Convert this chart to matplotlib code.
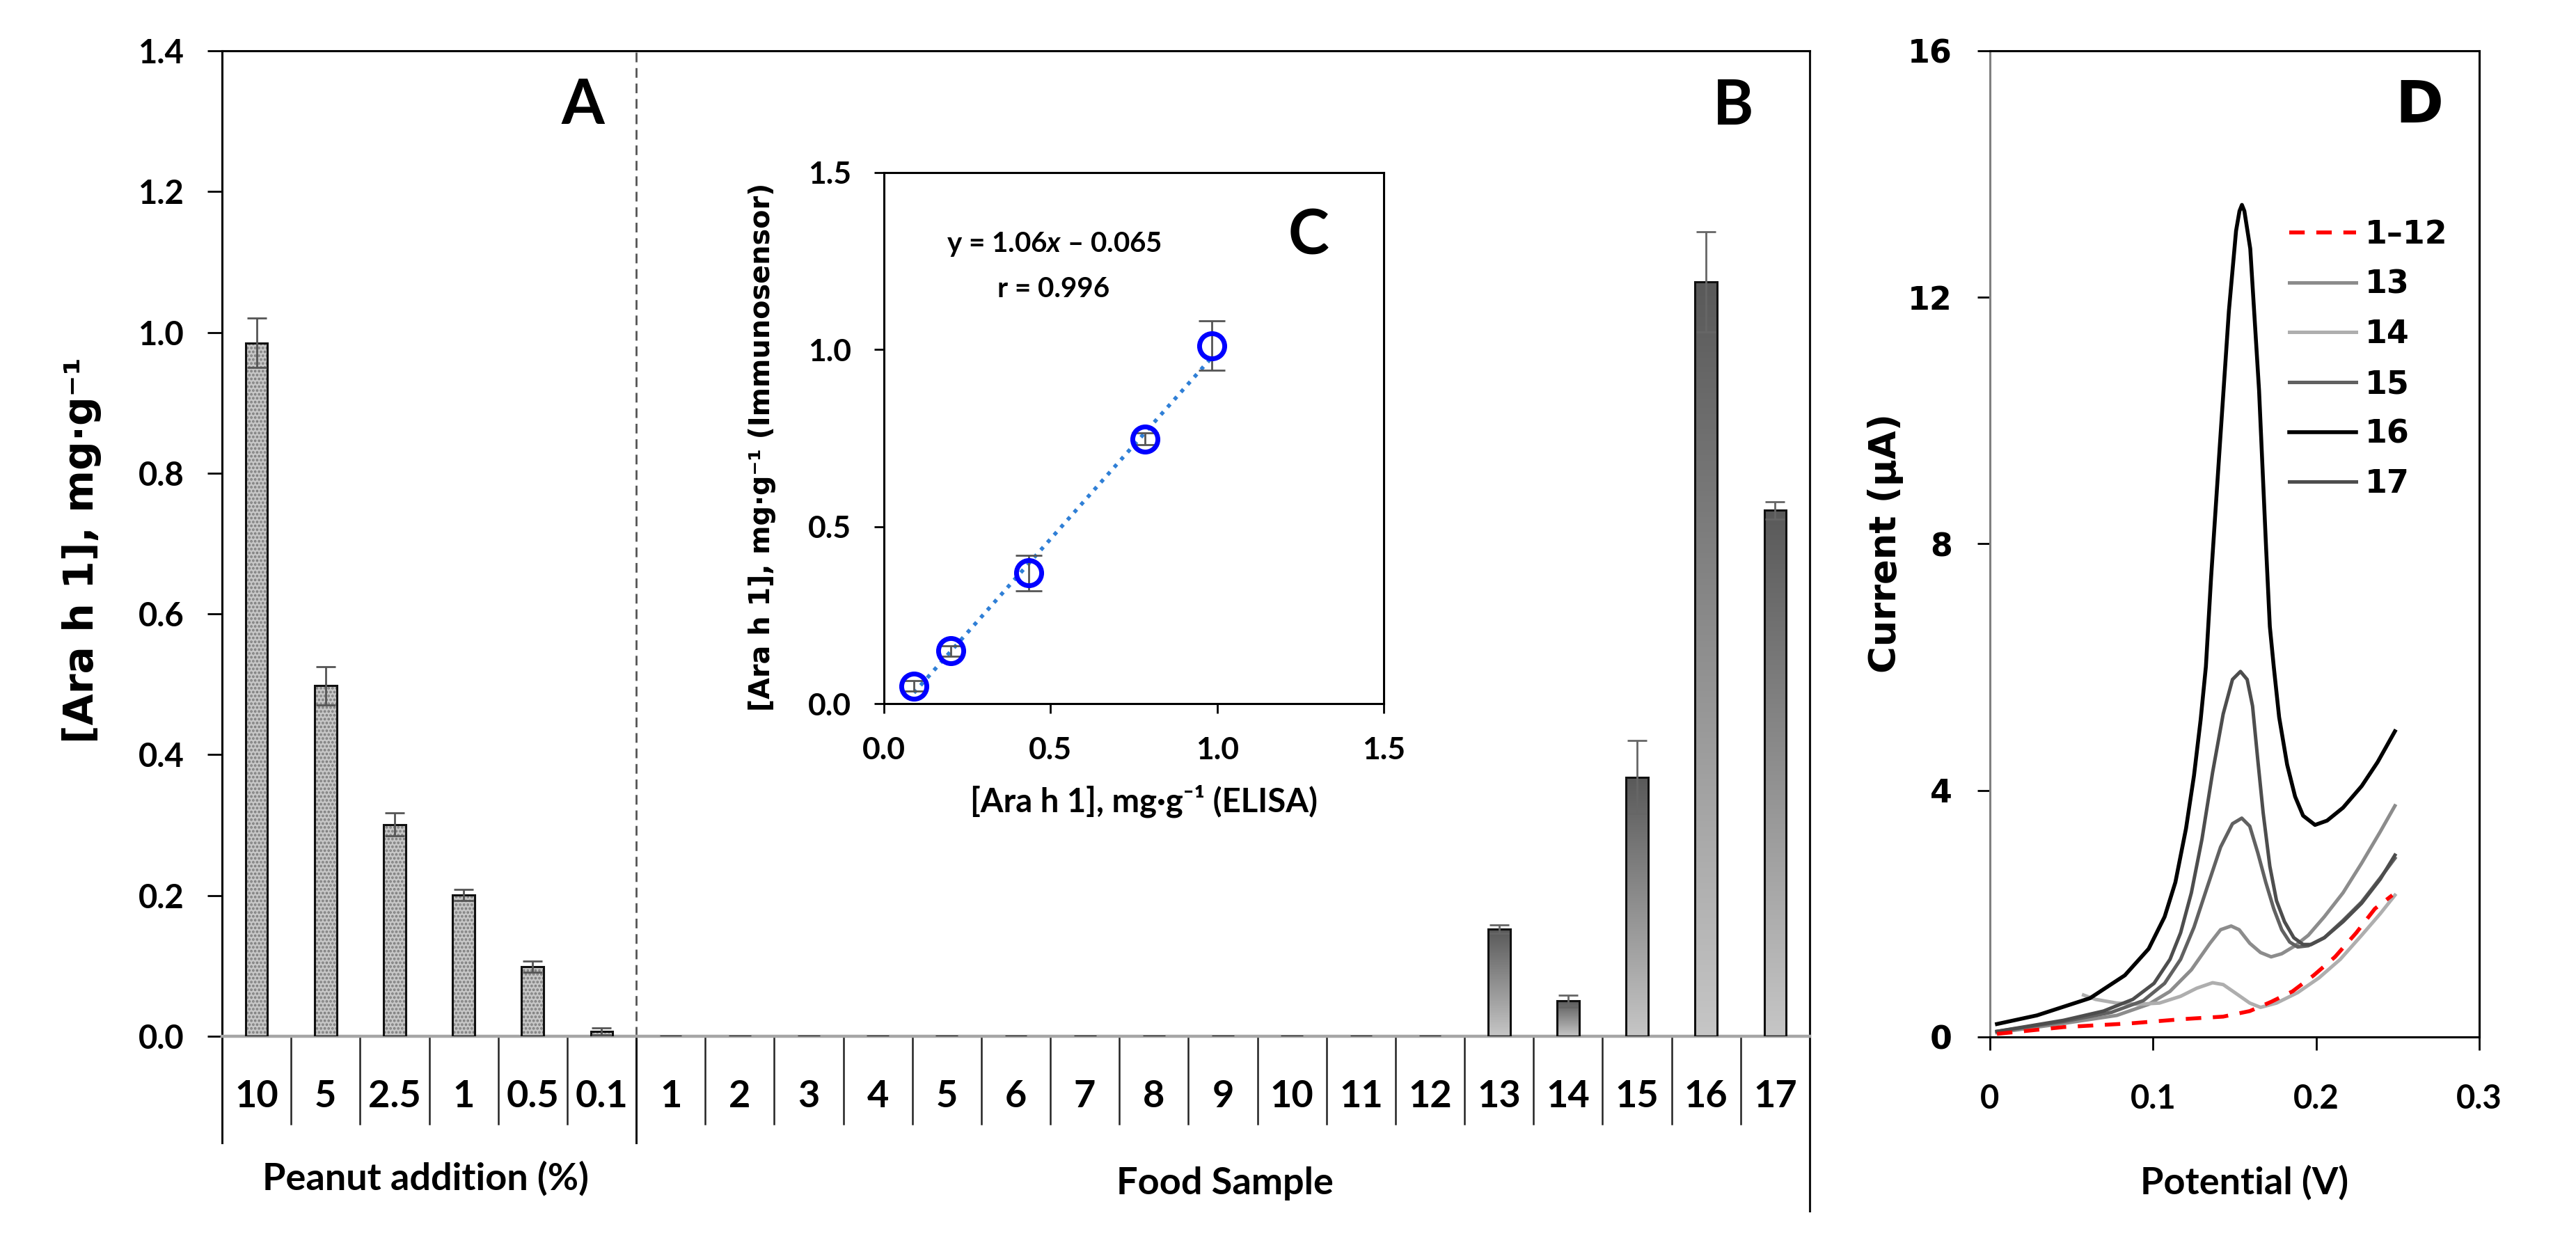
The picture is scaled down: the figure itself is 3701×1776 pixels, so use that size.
import numpy as np
import matplotlib
matplotlib.use("Agg")
import matplotlib.pyplot as plt
import matplotlib.transforms as mtransforms
from matplotlib import font_manager
from matplotlib.colors import LinearSegmentedColormap

W, H, DPI = 3701, 1776, 200

# ---- data -------------------------------------------------------------
peanut_labels = ["10", "5", "2.5", "1", "0.5", "0.1"]
peanut_values = [0.985, 0.498, 0.301, 0.201, 0.099, 0.007]
peanut_errors = [0.035, 0.027, 0.016, 0.008, 0.008, 0.005]

sample_labels = ["1", "2", "3", "4", "5", "6", "7", "8", "9", "10",
                 "11", "12", "13", "14", "15", "16", "17"]
sample_values = [0, 0, 0, 0, 0, 0, 0, 0, 0, 0, 0, 0,
                 0.152, 0.050, 0.368, 1.072, 0.747]
sample_errors = [0, 0, 0, 0, 0, 0, 0, 0, 0, 0, 0, 0,
                 0.006, 0.008, 0.052, 0.071, 0.012]

elisa = [0.090, 0.201, 0.435, 0.784, 0.985]
sensor = [0.050, 0.149, 0.369, 0.748, 1.011]
sensor_err = [0.015, 0.015, 0.050, 0.016, 0.070]
fit_slope, fit_icpt = 1.06, -0.065

# DPV curves (potential V, current uA)
pot_blank = [0.0043, 0.0451, 0.0859, 0.1186, 0.1430, 0.1593, 0.1724, 0.1855,
             0.1985, 0.2116, 0.2246, 0.2360, 0.2467]
cur_blank = [0.05, 0.16, 0.22, 0.29, 0.33, 0.42, 0.57, 0.74, 1.00, 1.30,
             1.69, 2.08, 2.30]

pot_13 = [0.0043, 0.0451, 0.0778, 0.0973, 0.1104, 0.1235, 0.1349, 0.1414,
          0.1479, 0.1528, 0.1593, 0.1659, 0.1724, 0.1789, 0.1871, 0.1952,
          0.2050, 0.2165, 0.2279, 0.2393, 0.2483]
cur_13 = [0.07, 0.22, 0.35, 0.53, 0.74, 1.09, 1.52, 1.74, 1.80, 1.74, 1.52,
          1.37, 1.30, 1.35, 1.48, 1.65, 1.95, 2.34, 2.82, 3.33, 3.75]

pot_14 = [0.0574, 0.0647, 0.0778, 0.0908, 0.1039, 0.1169, 0.1267, 0.1365,
          0.1430, 0.1512, 0.1593, 0.1659, 0.1757, 0.1887, 0.2018, 0.2148,
          0.2279, 0.2393, 0.2483]
cur_14 = [0.68, 0.61, 0.55, 0.53, 0.55, 0.66, 0.79, 0.88, 0.85, 0.70, 0.55,
          0.48, 0.55, 0.72, 0.96, 1.26, 1.65, 2.00, 2.30]

pot_15 = [0.0043, 0.0451, 0.0745, 0.0941, 0.1071, 0.1169, 0.1251, 0.1332,
          0.1414, 0.1487, 0.1544, 0.1593, 0.1642, 0.1691, 0.1740, 0.1789,
          0.1838, 0.1887, 0.1952, 0.2050, 0.2165, 0.2279, 0.2393, 0.2483]
cur_15 = [0.09, 0.25, 0.40, 0.59, 0.87, 1.26, 1.78, 2.43, 3.08, 3.46, 3.55,
          3.42, 2.99, 2.51, 2.08, 1.74, 1.54, 1.46, 1.48, 1.61, 1.89, 2.19,
          2.58, 2.90]

pot_16 = [0.0043, 0.0288, 0.0614, 0.0827, 0.0973, 0.1071, 0.1137, 0.1202,
          0.1251, 0.1292, 0.1324, 0.1356, 0.1410, 0.1465, 0.1509, 0.1530,
          0.1545, 0.1560, 0.1596, 0.1650, 0.1693, 0.1716, 0.1740, 0.1773,
          0.1822, 0.1871, 0.1920, 0.1993, 0.2067, 0.2165, 0.2279, 0.2377,
          0.2483]
cur_16 = [0.21, 0.35, 0.63, 1.00, 1.43, 1.95, 2.51, 3.38, 4.24, 5.15, 6.01,
          7.46, 9.62, 11.78, 13.08, 13.40, 13.50, 13.40, 12.79, 10.49, 7.94,
          6.66, 6.01, 5.19, 4.42, 3.90, 3.59, 3.44, 3.51, 3.72, 4.07, 4.46,
          4.96]

pot_17 = [0.0043, 0.0451, 0.0696, 0.0876, 0.1006, 0.1104, 0.1169, 0.1235,
          0.1300, 0.1365, 0.1430, 0.1487, 0.1536, 0.1577, 0.1610, 0.1642,
          0.1675, 0.1716, 0.1757, 0.1806, 0.1863, 0.1920, 0.1969, 0.2050,
          0.2165, 0.2279, 0.2393, 0.2483]
cur_17 = [0.09, 0.27, 0.42, 0.61, 0.87, 1.26, 1.69, 2.34, 3.21, 4.29, 5.24,
          5.80, 5.93, 5.80, 5.37, 4.50, 3.64, 2.77, 2.21, 1.87, 1.61, 1.50,
          1.50, 1.61, 1.87, 2.17, 2.56, 2.95]

# ---- fonts ------------------------------------------------------------
installed = {f.name for f in font_manager.fontManager.ttflist}
SANS = next((n for n in ["Lato", "Liberation Sans", "DejaVu Sans"] if n in installed), "DejaVu Sans")
CAL = [SANS, "DejaVu Sans"]
VER = ["DejaVu Sans"]
plt.rcParams["mathtext.fontset"] = "custom"
plt.rcParams["mathtext.it"] = f"{SANS}:italic:bold"
plt.rcParams["mathtext.rm"] = f"{SANS}:bold"
plt.rcParams["hatch.linewidth"] = 0.9


def fx(px):
    return px / W


def fy(py):
    return 1 - py / H


fig = plt.figure(figsize=(W / DPI, H / DPI), dpi=DPI)

# ---- panels A / B -----------------------------------------------------
ax = fig.add_axes([fx(319), fy(1489), fx(2600) - fx(319), fy(73) - fy(1489)])
n_a = len(peanut_labels)
pos_a = np.arange(n_a)
pos_b = np.arange(len(sample_labels)) + n_a
bw = 0.32

ax.bar(pos_a, peanut_values, bw, color="#c6c6c6", edgecolor="#7c7c7c",
       hatch="......", linewidth=0, zorder=2)
ax.bar(pos_a, peanut_values, bw, facecolor="none", edgecolor="#111111",
       linewidth=1.1, zorder=3)
ax.errorbar(pos_a, peanut_values, yerr=peanut_errors, fmt="none",
            ecolor="#555555", elinewidth=1.0, capsize=5, capthick=1.0, zorder=4)

grad = np.linspace(0, 1, 256).reshape(-1, 1)
gcmap = LinearSegmentedColormap.from_list("bargrad", ["#c6c6c6", "#595959"])
bars_b = ax.bar(pos_b, sample_values, bw, facecolor="none",
                edgecolor="#111111", linewidth=1.1, zorder=3)
for p in bars_b:
    if p.get_height() <= 0:
        continue
    x0, w, h = p.get_x(), p.get_width(), p.get_height()
    im = ax.imshow(grad, cmap=gcmap, origin="lower", aspect="auto",
                   extent=[x0, x0 + w, 0, h], zorder=2)
    im.set_clip_path(p)
nz = [i for i, v in enumerate(sample_values) if v > 0]
ax.errorbar(pos_b[nz], np.array(sample_values)[nz],
            yerr=np.array(sample_errors)[nz], fmt="none", ecolor="#666666",
            elinewidth=1.0, capsize=5, capthick=1.0, zorder=4)

ax.set_xlim(-0.5, n_a + len(sample_labels) - 0.5)
ax.set_ylim(0, 1.4)
ax.set_yticks(np.arange(0, 1.41, 0.2))
ax.set_yticklabels([f"{v:.1f}" for v in np.arange(0, 1.41, 0.2)])
ax.set_xticks([])
ax.tick_params(axis="y", direction="out", length=7.5, width=1.0, pad=12)
for lab in ax.get_yticklabels():
    lab.set_family(CAL)
    lab.set_fontweight("bold")
    lab.set_fontsize(17)
ax.spines["left"].set_linewidth(1.1)
ax.spines["top"].set_linewidth(1.1)
ax.spines["right"].set_visible(False)
ax.spines["bottom"].set_color("#a6a6a6")
ax.spines["bottom"].set_linewidth(1.6)

tr = mtransforms.blended_transform_factory(ax.transData, ax.transAxes)
for b in np.arange(0.5, n_a + len(sample_labels) - 1, 1.0):
    ax.plot([b, b], [0, -0.089], transform=tr, color="#222222", lw=0.9,
            clip_on=False)
ax.plot([-0.5, -0.5], [0, -0.108], transform=tr, color="#111111", lw=1.1,
        clip_on=False)
ax.plot([n_a - 0.5, n_a - 0.5], [0, -0.108], transform=tr, color="#111111",
        lw=1.1, clip_on=False)
ax.plot([n_a - 0.5, n_a - 0.5], [0, 1], transform=tr, color="#555555",
        lw=1.0, ls=(0, (5, 3)))
ax.plot([1, 1], [1, -0.177], transform=ax.transAxes, color="#111111", lw=1.1,
        clip_on=False)
for x, lab in zip(np.concatenate([pos_a, pos_b]), peanut_labels + sample_labels):
    ax.text(x, -0.0614, lab, transform=tr, ha="center", va="center",
            fontsize=19.5, fontweight="bold", family=CAL)

fig.text(fx(611), fy(1693), "Peanut addition (%)", ha="center", va="center",
         fontsize=19.5, fontweight="bold", family=CAL)
fig.text(fx(1760), fy(1700), "Food Sample", ha="center", va="center",
         fontsize=19.5, fontweight="bold", family=CAL)
fig.text(fx(118), fy(790), "[Ara h 1], mg·g⁻¹", rotation=90, ha="center",
         va="center", fontsize=21, fontweight="bold", family=VER)
fig.text(fx(837), fy(152), "A", ha="center", va="center", fontsize=32,
         fontweight="bold", family=CAL)
fig.text(fx(2490), fy(153), "B", ha="center", va="center", fontsize=32,
         fontweight="bold", family=CAL)

# ---- inset C ----------------------------------------------------------
axc = fig.add_axes([fx(1270), fy(1011), fx(1988) - fx(1270), fy(248) - fy(1011)])
xs = np.array([min(elisa), max(elisa)])
axc.plot(xs, fit_slope * xs + fit_icpt, color="#2f7fd6", lw=2.0,
         ls=(0, (1, 1.6)), zorder=2)
axc.errorbar(elisa, sensor, yerr=sensor_err, fmt="none", ecolor="#555555",
             elinewidth=1.0, capsize=7, capthick=1.0, zorder=3)
axc.plot(elisa, sensor, "o", ms=13, mfc="none", mec="#0000ff", mew=2.5,
         zorder=4)
axc.set_xlim(0, 1.5)
axc.set_ylim(0, 1.5)
ticks_c = [0.0, 0.5, 1.0, 1.5]
axc.set_xticks(ticks_c)
axc.set_yticks(ticks_c)
axc.set_xticklabels([f"{t:.1f}" for t in ticks_c])
axc.set_yticklabels([f"{t:.1f}" for t in ticks_c])
axc.tick_params(direction="out", length=5, width=1.0, pad=12)
for lab in axc.get_xticklabels() + axc.get_yticklabels():
    lab.set_family(CAL)
    lab.set_fontweight("bold")
    lab.set_fontsize(16)
for s in axc.spines.values():
    s.set_linewidth(1.1)
fig.text(fx(1643), fy(1151), "[Ara h 1], mg·g⁻¹ (ELISA)", ha="center",
         va="center", fontsize=17, fontweight="bold", family=CAL)
fig.text(fx(1095), fy(642), "[Ara h 1], mg·g⁻¹ (Immunosensor)", rotation=90,
         ha="center", va="center", fontsize=14.3, fontweight="bold", family=VER)
axc.text(0.34, 0.865, "y = 1.06$x$ – 0.065", transform=axc.transAxes,
         ha="center", va="center", fontsize=14.5, fontweight="bold", family=CAL)
axc.text(0.34, 0.78, "r = 0.996", transform=axc.transAxes, ha="center",
         va="center", fontsize=14.5, fontweight="bold", family=CAL)
fig.text(fx(1880), fy(339), "C", ha="center", va="center", fontsize=32,
         fontweight="bold", family=CAL)

# ---- panel D ----------------------------------------------------------
axd = fig.add_axes([fx(2859), fy(1490), fx(3562) - fx(2859), fy(73) - fy(1490)])
axd.plot(pot_blank, cur_blank, color="#ff0000", lw=2.0, ls=(0, (4, 3)),
         label="1–12", zorder=3)
axd.plot(pot_13, cur_13, color="#8c8c8c", lw=1.8, label="13")
axd.plot(pot_14, cur_14, color="#aeaeae", lw=1.8, label="14")
axd.plot(pot_15, cur_15, color="#616161", lw=1.8, label="15")
axd.plot(pot_16, cur_16, color="#000000", lw=2.0, label="16")
axd.plot(pot_17, cur_17, color="#4d4d4d", lw=1.8, label="17")
axd.set_xlim(0, 0.3)
axd.set_ylim(0, 16)
axd.set_xticks([0, 0.1, 0.2, 0.3])
axd.set_xticklabels(["0", "0.1", "0.2", "0.3"])
axd.set_yticks([0, 4, 8, 12, 16])
axd.tick_params(axis="x", direction="out", length=7, width=1.0, pad=17)
axd.tick_params(axis="y", direction="out", length=6.5, width=1.0, pad=13)
for lab in axd.get_xticklabels():
    lab.set_family(CAL)
    lab.set_fontweight("bold")
    lab.set_fontsize(17)
for lab in axd.get_yticklabels():
    lab.set_family(VER)
    lab.set_fontweight("bold")
    lab.set_fontsize(16.5)
for s in axd.spines.values():
    s.set_linewidth(1.1)
axd.spines["left"].set_color("#808080")
leg = axd.legend(loc="upper left", bbox_to_anchor=(0.612, 0.829), frameon=False,
                 handlelength=2.1, handletextpad=0.26, labelspacing=0.58,
                 borderpad=0, borderaxespad=0,
                 prop={"family": VER, "weight": "bold", "size": 16.5})
fig.text(fx(2709), fy(781), "Current (µA)", rotation=90, ha="center",
         va="center", fontsize=19, fontweight="bold", family=VER)
fig.text(fx(3225), fy(1699), "Potential (V)", ha="center", va="center",
         fontsize=19.5, fontweight="bold", family=CAL)
fig.text(fx(3476), fy(152), "D", ha="center", va="center", fontsize=30,
         fontweight="bold", family=VER)

fig.savefig("out.png", dpi=DPI, facecolor="white")
